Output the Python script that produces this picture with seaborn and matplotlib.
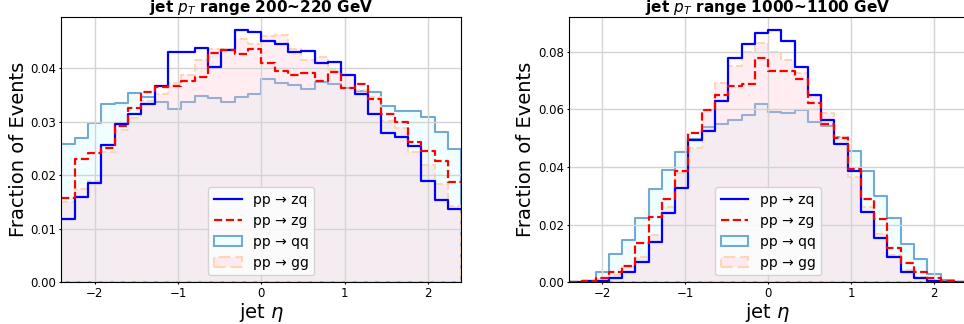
import numpy as np
import pandas as pd
import matplotlib
matplotlib.use("Agg")
import matplotlib.pyplot as plt
import seaborn as sns

# ---------------- data ----------------
eta_min, eta_max, n_bins = -2.4, 2.4, 30

titles = [r"jet $p_T$ range 200~220 GeV", r"jet $p_T$ range 1000~1100 GeV"]
labels = ["pp → zq", "pp → zg", "pp → qq", "pp → gg"]
xlabel = r"jet $\eta$"
ylabel = "Fraction of Events"

# pT 200~220 GeV
zq_200 = [0.0119, 0.0159, 0.0185, 0.0256, 0.0296, 0.0314, 0.0332, 0.0366, 0.0429, 0.0429,
          0.0437, 0.0401, 0.0434, 0.0471, 0.0467, 0.0450, 0.0444, 0.0429, 0.0432, 0.0409,
          0.0411, 0.0387, 0.0351, 0.0314, 0.0279, 0.0272, 0.0254, 0.0189, 0.0154, 0.0136]
zg_200 = [0.0158, 0.0231, 0.0242, 0.0251, 0.0291, 0.0325, 0.0356, 0.0365, 0.0367, 0.0375,
          0.0384, 0.0427, 0.0434, 0.0426, 0.0435, 0.0410, 0.0394, 0.0386, 0.0391, 0.0376,
          0.0393, 0.0363, 0.0370, 0.0342, 0.0314, 0.0300, 0.0261, 0.0245, 0.0226, 0.0188]
qq_200 = [0.0258, 0.0269, 0.0298, 0.0332, 0.0334, 0.0353, 0.0345, 0.0337, 0.0323, 0.0337,
          0.0347, 0.0343, 0.0337, 0.0345, 0.0352, 0.0380, 0.0371, 0.0368, 0.0360, 0.0373,
          0.0370, 0.0363, 0.0357, 0.0356, 0.0329, 0.0319, 0.0319, 0.0309, 0.0281, 0.0248]
gg_200 = [0.0149, 0.0175, 0.0189, 0.0244, 0.0284, 0.0306, 0.0338, 0.0352, 0.0371, 0.0387,
          0.0415, 0.0435, 0.0435, 0.0454, 0.0445, 0.0460, 0.0462, 0.0435, 0.0414, 0.0420,
          0.0396, 0.0387, 0.0358, 0.0345, 0.0301, 0.0287, 0.0244, 0.0219, 0.0183, 0.0143]

# pT 1000~1100 GeV
zq_1000 = [0.0001, 0.0003, 0.0006, 0.0014, 0.0035, 0.0072, 0.0141, 0.0239, 0.0328, 0.0494,
           0.0525, 0.0629, 0.0777, 0.0825, 0.0864, 0.0875, 0.0835, 0.0746, 0.0650, 0.0563,
           0.0480, 0.0386, 0.0243, 0.0155, 0.0086, 0.0037, 0.0014, 0.0005, 0.0002, 0.0000]
zg_1000 = [0.0001, 0.0005, 0.0014, 0.0037, 0.0058, 0.0135, 0.0228, 0.0288, 0.0387, 0.0517,
           0.0598, 0.0650, 0.0679, 0.0688, 0.0779, 0.0733, 0.0731, 0.0705, 0.0621, 0.0548,
           0.0499, 0.0392, 0.0288, 0.0220, 0.0118, 0.0066, 0.0037, 0.0014, 0.0006, 0.0002]
qq_1000 = [0.0002, 0.0006, 0.0034, 0.0098, 0.0147, 0.0224, 0.0324, 0.0390, 0.0453, 0.0497,
           0.0537, 0.0548, 0.0561, 0.0580, 0.0617, 0.0590, 0.0586, 0.0598, 0.0555, 0.0541,
           0.0505, 0.0455, 0.0386, 0.0300, 0.0222, 0.0134, 0.0080, 0.0030, 0.0008, 0.0001]
gg_1000 = [0.0001, 0.0003, 0.0010, 0.0025, 0.0054, 0.0087, 0.0164, 0.0262, 0.0378, 0.0467,
           0.0598, 0.0692, 0.0750, 0.0798, 0.0829, 0.0798, 0.0769, 0.0725, 0.0645, 0.0586,
           0.0503, 0.0366, 0.0262, 0.0168, 0.0095, 0.0043, 0.0020, 0.0008, 0.0002, 0.0001]

panels = [(zq_200, zg_200, qq_200, gg_200), (zq_1000, zg_1000, qq_1000, gg_1000)]

# ---------------- style ----------------
plt.rcParams["font.family"] = ["DejaVu Sans"]
plt.rcParams["mathtext.fontset"] = "dejavusans"

edges = np.linspace(eta_min, eta_max, n_bins + 1)
centers = 0.5 * (edges[:-1] + edges[1:])

fig = plt.figure(figsize=(9.64, 3.24), dpi=100)
ax_rects = [[0.0636, 0.1287, 0.415, 0.818], [0.5903, 0.1287, 0.4129, 0.818]]

hist_kws = dict(x="eta", weights="w", bins=n_bins, binrange=(eta_min, eta_max),
                element="step")

for rect, title, (zq, zg, qq, gg) in zip(ax_rects, titles, panels):
    ax = fig.add_axes(rect)
    df_zq = pd.DataFrame({"eta": centers, "w": zq})
    df_zg = pd.DataFrame({"eta": centers, "w": zg})
    df_qq = pd.DataFrame({"eta": centers, "w": qq})
    df_gg = pd.DataFrame({"eta": centers, "w": gg})

    sns.histplot(data=df_qq, fill=True, facecolor=(0.94, 0.995, 1.0, 1.0),
                 edgecolor="#72aad3", linewidth=1.5, label=labels[2], ax=ax, **hist_kws)
    sns.histplot(data=df_gg, fill=True, facecolor=(1.0, 0.75, 0.80, 0.27),
                 edgecolor="#fdd6b8", linewidth=1.5, linestyle="--", label=labels[3],
                 ax=ax, **hist_kws)
    sns.histplot(data=df_zq, fill=False, color="blue", linewidth=1.6,
                 label=labels[0], ax=ax, **hist_kws)
    sns.histplot(data=df_zg, fill=False, color="red", linewidth=1.6, linestyle="--",
                 label=labels[1], ax=ax, **hist_kws)

    ax.set_xlim(eta_min, eta_max)
    ymax = max(max(zq), max(zg), max(qq), max(gg))
    ax.set_ylim(0, ymax * 1.05)
    ax.grid(True, color="#d4d4d4", linewidth=1.0)
    ax.set_title(title, fontsize=11, fontweight="bold", pad=3)
    ax.set_xlabel(xlabel, fontsize=14, labelpad=0.5)
    ax.set_ylabel(ylabel, fontsize=14, labelpad=2)
    ax.tick_params(labelsize=8.5, length=1.5, pad=2)

    handles, labs = ax.get_legend_handles_labels()
    order = {l: h for h, l in zip(handles, labs)}
    ax.legend([order[l] for l in labels], labels, loc="lower center", fontsize=10)

fig.savefig("out.png", dpi=100)
